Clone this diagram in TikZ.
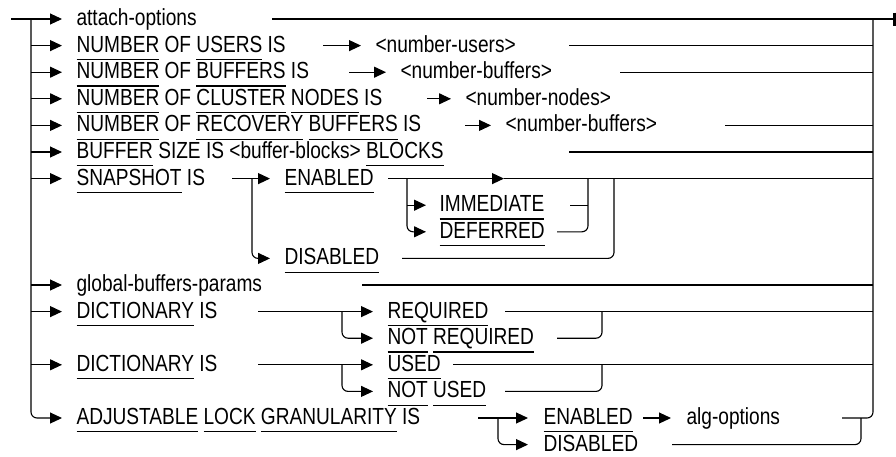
\documentclass[tikz,border=0pt]{standalone}
\usepackage{fontspec}
\setmainfont{Liberation Sans}[FakeStretch=0.82]
\usetikzlibrary{arrows.meta}
% keyword with its minimum abbreviation underlined
\newcommand\kw[1]{\setbox0\hbox{#1}\rlap{\rule[-7.9pt]{\wd0}{1.1pt}}\box0\relax}
\begin{document}
\begin{tikzpicture}[x=1pt,y=-1pt,line width=1.1pt,
  font=\fontsize{23.3}{26}\selectfont,
  txt/.style={anchor=west,inner sep=0pt,text height=12.8pt,text depth=0pt},
  arr/.style={-{Triangle[length=12pt,width=11pt]}},
  rnd/.style={rounded corners=6pt}]
\useasboundingbox (0,0) rectangle (896,456);
% row heights
\def\ra{19}\def\rb{45.6}\def\rc{72.2}\def\rd{98.8}\def\re{125.4}
\def\rf{152}\def\rg{178.6}\def\rh{205.2}\def\ri{231.8}\def\rj{258.4}
\def\rk{285}\def\rl{311.6}\def\rm{338.2}\def\rn{364.8}\def\ro{391.4}
\def\rp{418}\def\rq{444.6}

% ---- texts
\node[txt] (t0) at (76,\ra) {attach-options};
\node[txt] (t1) at (76,\rb) {\kw{NUMBER} OF \kw{USERS} IS};
\node[txt] (v1) at (375,\rb) {<number-users>};
\node[txt] (t2) at (76,\rc) {\kw{NUMBER} OF \kw{BUFFERS} IS};
\node[txt] (v2) at (400,\rc) {<number-buffers>};
\node[txt] (t3) at (76,\rd) {\kw{NUMBER} OF \kw{CLUSTER} \kw{NODES} IS};
\node[txt] (v3) at (465,\rd) {<number-nodes>};
\node[txt] (t4) at (76,\re) {\kw{NUMBER} OF \kw{RECOVERY} \kw{BUFFERS} IS};
\node[txt] (v4) at (505,\re) {<number-buffers>};
\node[txt] (t5) at (76,\rf) {\kw{BUFFER} SIZE IS <buffer-blocks> \kw{BLOCKS}};
\node[txt] (t6) at (76,\rg) {\kw{SNAPSHOT} IS};
\node[txt] (sen) at (284,\rg) {\kw{ENABLED}};
\node[txt] (sim) at (439,\rh) {\kw{IMMEDIATE}};
\node[txt] (sde) at (439,\ri) {\kw{DEFERRED}};
\node[txt] (sdi) at (284,\rj) {\kw{DISABLED}};
\node[txt] (t7) at (76,\rk) {global-buffers-params};
\node[txt] (t8) at (76,\rl) {\kw{DICTIONARY} IS};
\node[txt] (dre) at (387,\rl) {\kw{REQUIRED}};
\node[txt] (dnr) at (387,\rm) {\kw{NOT} \kw{REQUIRED}};
\node[txt] (t9) at (76,\rn) {\kw{DICTIONARY} IS};
\node[txt] (dus) at (387,\rn) {\kw{USED}};
\node[txt] (dnu) at (387,\ro) {\kw{NOT} \kw{USED}};
\node[txt] (t10) at (76,\rp) {\kw{ADJUSTABLE} \kw{LOCK} \kw{GRANULARITY} IS};
\node[txt] (aen) at (543,\rp) {\kw{ENABLED}};
\node[txt] (adi) at (543,\rq) {DISABLED};
\node[txt] (alg) at (686,\rp) {alg-options};

% ---- left rail and entry arrows
\coordinate (start) at (11,\ra);
\coordinate (rail) at (31,0);
\draw[arr] (start) -- ([xshift=-14pt]t0.west);
\foreach \n in {t1,t2,t3,t4,t5,t6,t7,t8,t9}
  \draw[arr] (\n.west -| rail) -- ([xshift=-14pt]\n.west);
\draw[arr,rnd] (31,\ra) -- (31,\rp) -- ([xshift=-14pt]t10.west);

% ---- right rail and exit
\coordinate (exit) at (893,\ra);
\draw (272,\ra) -- (exit);
\draw[line width=3.3pt] (894.6,12.7) -- (894.6,26);
\draw[rnd] (842,\rp) -- (873,\rp) -- (873,\ra);

% ---- value rows
\draw[arr] (323,\rb) -- ([xshift=-14pt]v1.west);
\draw (569,\rb) -- (873,\rb);
\draw[arr] (349,\rc) -- ([xshift=-14pt]v2.west);
\draw (620,\rc) -- (873,\rc);
\draw[arr] (427,\rd) -- ([xshift=-14pt]v3.west);
\draw[arr] (465,\re) -- ([xshift=-14pt]v4.west);
\draw (725,\re) -- (873,\re);
\draw (569,\rf) -- (873,\rf);

% ---- snapshot
\draw[arr] (232,\rg) -- ([xshift=-14pt]sen.west);
\draw[arr,rnd] (252,\rg) -- (252,\rj) -- ([xshift=-14pt]sdi.west);
\draw[arr] (388,\rg) -- (504,\rg);
\draw (504,\rg) -- (873,\rg);
\draw[arr] (407,\rh) -- ([xshift=-13pt]sim.west);
\draw[arr,rnd] (407,\rg) -- (407,\ri) -- ([xshift=-13pt]sde.west);
\draw (570,\rh) -- (588,\rh);
\draw[rnd] (557,\ri) -- (588,\ri) -- (588,\rg);
\draw[rnd] (402,\rj) -- (614,\rj) -- (614,\rg);

% ---- global buffers
\draw (362,\rk) -- (873,\rk);

% ---- dictionary required
\draw[arr] (258,\rl) -- ([xshift=-14pt]dre.west);
\draw[arr,rnd] (342,\rl) -- (342,\rm) -- ([xshift=-14pt]dnr.west);
\draw (505,\rl) -- (873,\rl);
\draw[rnd] (557,\rm) -- (602,\rm) -- (602,\rl);

% ---- dictionary used
\draw[arr] (258,\rn) -- ([xshift=-14pt]dus.west);
\draw[arr,rnd] (342,\rn) -- (342,\ro) -- ([xshift=-14pt]dnu.west);
\draw (453,\rn) -- (873,\rn);
\draw[rnd] (505,\ro) -- (602,\ro) -- (602,\rn);

% ---- adjustable lock granularity
\draw[arr] (478,\rp) -- ([xshift=-15pt]aen.west);
\draw[arr,rnd] (498,\rp) -- (498,\rq) -- ([xshift=-15pt]adi.west);
\draw[arr] (643,\rp) -- ([xshift=-15pt]alg.west);
\draw[rnd] (672,\rq) -- (861,\rq) -- (861,\rp);
\end{tikzpicture}
\end{document}
